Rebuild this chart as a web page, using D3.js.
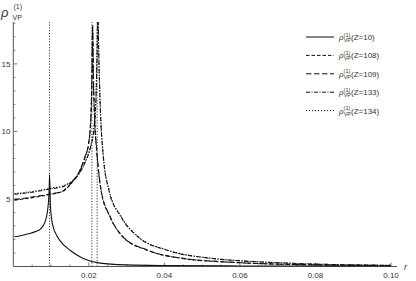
<!DOCTYPE html>
<html>
<head>
<meta charset="utf-8">
<script src="https://cdn.jsdelivr.net/npm/d3@7"></script>
<style>
  html, body { margin: 0; padding: 0; background: #fff; }
  svg { display: block; font-family: "Liberation Sans", Arial, sans-serif; }
</style>
</head>
<body>
<div id="chart"></div>
<script>
// values
const r10 = [0.0003, 0.002, 0.004, 0.006, 0.0071, 0.0084, 0.0091, 0.0095, 0.0096, 0.0098, 0.0101, 0.0106, 0.0115, 0.0124, 0.015, 0.0185, 0.023, 0.03, 0.04, 0.06, 0.08, 0.1];
const rho10 = [2.2, 2.28, 2.42, 2.6, 2.75, 3.3, 4.2, 5.7, 6.8, 4.7, 3.6, 2.9, 2.3, 1.9, 1.2, 0.6, 0.25, 0.12, 0.07, 0.04, 0.03, 0.02];

const r108 = [0.0003, 0.005, 0.01, 0.013, 0.0155, 0.0175, 0.019, 0.0199, 0.0205, 0.0208, 0.021, 0.0212, 0.0216, 0.0221, 0.0232, 0.0256, 0.029, 0.0356, 0.0454, 0.055, 0.065, 0.08, 0.1];
const rho108 = [4.9, 5.1, 5.35, 5.55, 6.2, 7.0, 8.1, 9.0, 10.8, 13.5, 17.5, 14, 10.5, 8.5, 5.67, 3.68, 2.19, 1.19, 0.57, 0.35, 0.22, 0.12, 0.07];
const rho109 = [4.95, 5.14, 5.38, 5.58, 6.23, 7.05, 8.15, 9.05, 10.9, 13.8, 17.9, 14.2, 10.6, 8.6, 5.72, 3.72, 2.22, 1.21, 0.58, 0.36, 0.22, 0.12, 0.07];

const r133 = [0.0003, 0.005, 0.01, 0.0135, 0.016, 0.0175, 0.019, 0.0205, 0.0214, 0.0219, 0.0222, 0.0224, 0.0226, 0.023, 0.0238, 0.0253, 0.0285, 0.033, 0.0409, 0.0525, 0.06, 0.07, 0.08, 0.1];
const rho133 = [5.35, 5.5, 5.75, 5.95, 6.4, 6.9, 7.7, 8.9, 10.3, 12.5, 16, 19, 16, 12, 8.2, 5.67, 3.68, 2.19, 1.19, 0.6, 0.42, 0.28, 0.18, 0.09];
const rho134 = [5.4, 5.55, 5.8, 6.0, 6.45, 6.95, 7.75, 8.95, 10.4, 12.7, 16.4, 19.5, 16.3, 12.2, 8.3, 5.72, 3.72, 2.22, 1.21, 0.61, 0.43, 0.29, 0.18, 0.09];

const markerR = [0.0096, 0.0208, 0.0222];

const series = [
    {name: "Z=10",  r: r10,  v: rho10,  dash: null},
    {name: "Z=108", r: r108, v: rho108, dash: "3.5,2"},
    {name: "Z=109", r: r108, v: rho109, dash: "5.5,2.5"},
    {name: "Z=133", r: r133, v: rho133, dash: "4,1.5,1,1.5"},
    {name: "Z=134", r: r133, v: rho134, dash: "1.2,1.8"}
];

const xMajor = [0.02, 0.04, 0.06, 0.08, 0.10];
const xLabels = ["0.02", "0.04", "0.06", "0.08", "0.10"];
const yMajor = [5, 10, 15];

const W = 416, H = 281;
const svg = d3.select("#chart").append("svg")
    .attr("width", W)
    .attr("height", H);

const x = d3.scaleLinear().domain([0, 0.1]).range([13.3, 391]);
const y = d3.scaleLinear().domain([0, 18.1]).range([266.5, 22]);

const axisCol = "#555";
const textCol = "#333";

// clip region for the curves
svg.append("defs").append("clipPath").attr("id", "plotclip")
    .append("rect")
    .attr("x", x(0)).attr("y", y(18.1))
    .attr("width", 397 - x(0)).attr("height", y(0) - y(18.1));

// vertical dotted markers
svg.append("g").selectAll("line")
    .data(markerR)
    .enter().append("line")
    .attr("x1", d => x(d)).attr("x2", d => x(d))
    .attr("y1", y(0)).attr("y2", y(18.1))
    .attr("stroke", "#222")
    .attr("stroke-width", 0.9)
    .attr("stroke-dasharray", "1.2,1.6");

// axes
const ax = svg.append("g");
ax.append("line")
    .attr("x1", x(0)).attr("x2", 397)
    .attr("y1", y(0)).attr("y2", y(0))
    .attr("stroke", axisCol).attr("stroke-width", 1);
ax.append("line")
    .attr("x1", x(0)).attr("x2", x(0))
    .attr("y1", y(0)).attr("y2", y(18.1))
    .attr("stroke", axisCol).attr("stroke-width", 1);

// x ticks
const xMinor = d3.range(1, 21).map(i => i * 0.005);
ax.selectAll(".xt")
    .data(xMinor)
    .enter().append("line")
    .attr("x1", d => x(d)).attr("x2", d => x(d))
    .attr("y1", y(0))
    .attr("y2", (d, i) => y(0) - ((i + 1) % 4 === 0 ? 4 : 2))
    .attr("stroke", axisCol).attr("stroke-width", 0.8);
ax.selectAll(".xl")
    .data(xMajor)
    .enter().append("text")
    .attr("x", d => x(d))
    .attr("y", 277.5)
    .attr("text-anchor", "middle")
    .attr("font-size", 8)
    .attr("fill", textCol)
    .text((d, i) => xLabels[i]);

// y ticks
const yMinor = d3.range(1, 19);
ax.selectAll(".yt")
    .data(yMinor)
    .enter().append("line")
    .attr("x1", x(0))
    .attr("x2", d => x(0) + (d % 5 === 0 ? 4 : 2))
    .attr("y1", d => y(d)).attr("y2", d => y(d))
    .attr("stroke", axisCol).attr("stroke-width", 0.8);
ax.selectAll(".yl")
    .data(yMajor)
    .enter().append("text")
    .attr("x", 10.5)
    .attr("y", d => y(d) + 3)
    .attr("text-anchor", "end")
    .attr("font-size", 8)
    .attr("fill", textCol)
    .text(d => d);

// axis titles
ax.append("text")
    .attr("x", 404).attr("y", 270)
    .attr("font-size", 9)
    .attr("font-style", "italic")
    .attr("fill", textCol)
    .text("r");
ax.append("text")
    .attr("x", 1).attr("y", 17)
    .attr("font-size", 13)
    .attr("font-style", "italic")
    .attr("fill", textCol)
    .text("ρ");
ax.append("text")
    .attr("x", 13.5).attr("y", 9)
    .attr("font-size", 7)
    .attr("fill", textCol)
    .text("(1)");
ax.append("text")
    .attr("x", 12.5).attr("y", 19.5)
    .attr("font-size", 7)
    .attr("fill", textCol)
    .text("VP");

// curves
const line = d3.line()
    .x(d => x(d[0]))
    .y(d => y(d[1]))
    .curve(d3.curveMonotoneX);

svg.append("g")
    .attr("clip-path", "url(#plotclip)")
    .selectAll("path")
    .data(series)
    .enter().append("path")
    .attr("d", s => line(s.r.map((r, i) => [r, s.v[i]])))
    .attr("fill", "none")
    .attr("stroke", "#111")
    .attr("stroke-width", 1.1)
    .attr("stroke-dasharray", s => s.dash);

// legend
const leg = svg.append("g").attr("transform", "translate(306,37)");
const rows = leg.selectAll("g")
    .data(series)
    .enter().append("g")
    .attr("transform", (d, i) => "translate(0," + i * 18.4 + ")");
rows.append("line")
    .attr("x1", 0).attr("x2", 28)
    .attr("y1", 0).attr("y2", 0)
    .attr("stroke", "#111")
    .attr("stroke-width", 1)
    .attr("stroke-dasharray", d => d.dash);
const lt = rows.append("text")
    .attr("x", 33).attr("y", 3)
    .attr("font-size", 8)
    .attr("fill", textCol);
lt.append("tspan").attr("font-style", "italic").text("ρ");
lt.append("tspan").attr("font-size", 5.5).attr("dy", -3.5).text("(1)");
lt.append("tspan").attr("font-size", 5.5).attr("dx", -6.7).attr("dy", 5.5).text("VP");
lt.append("tspan").attr("dy", -2).text(d => "(" + d.name + ")");
</script>
</body>
</html>
